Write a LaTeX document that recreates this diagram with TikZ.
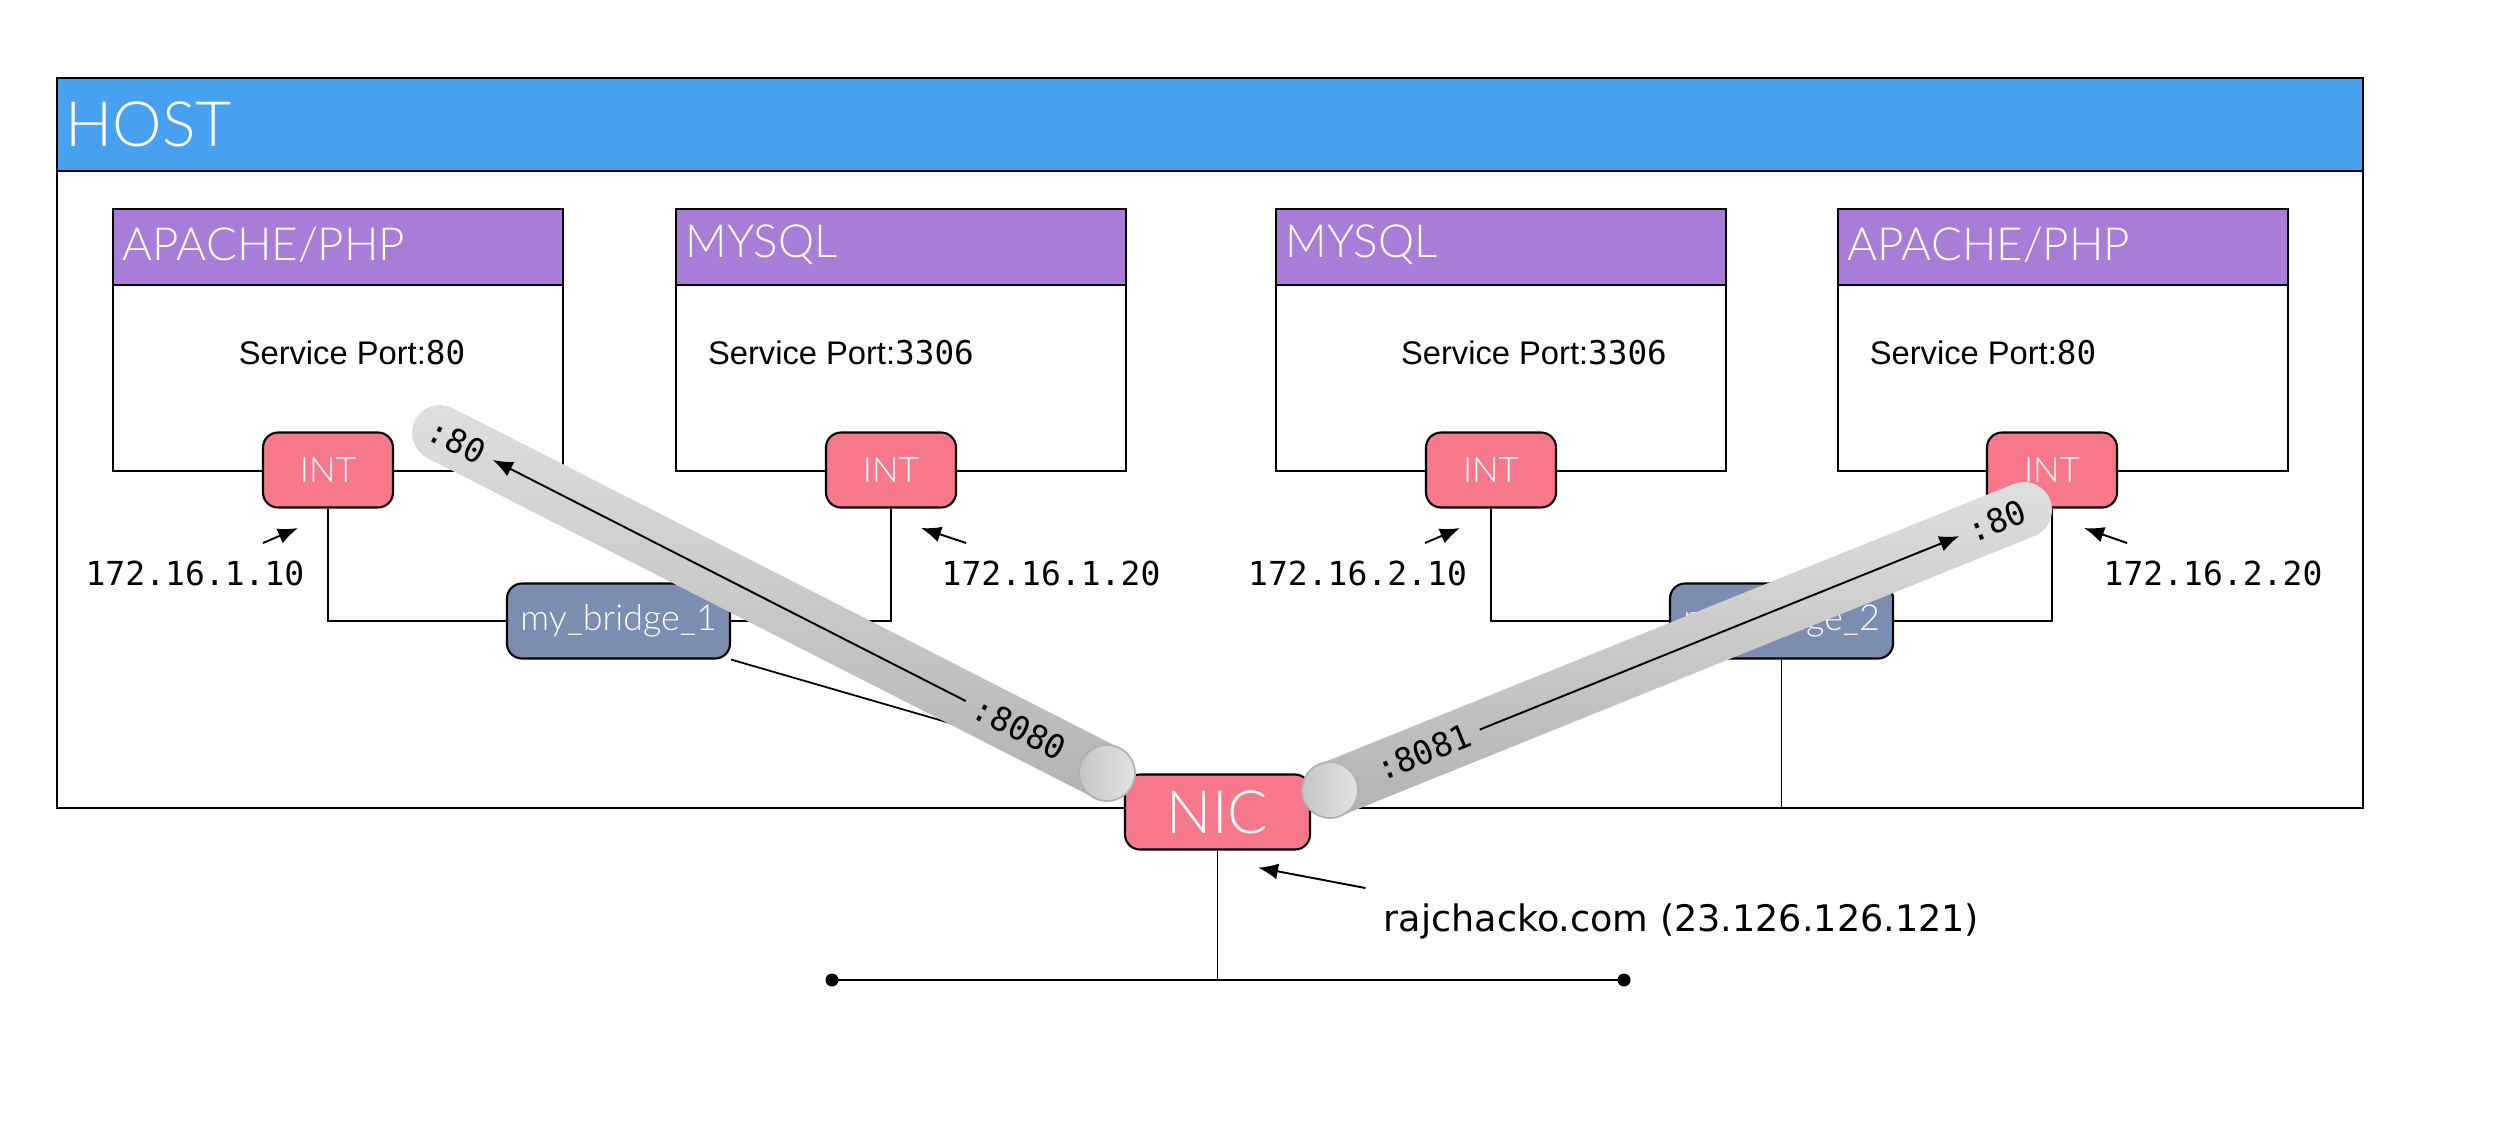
\documentclass[tikz,border=0pt]{standalone}
\usepackage{fontspec}
\setmainfont{Liberation Sans}
\setmonofont{DejaVu Sans Mono}
\newfontfamily\urlfont{DejaVu Sans}
\newfontfamily\thinfont{Lato Light}
\usetikzlibrary{arrows.meta,calc}

\definecolor{hostblue}{RGB}{71,161,240}
\definecolor{svcpurple}{RGB}{167,125,216}
\definecolor{intpink}{RGB}{246,120,138}
\definecolor{bridgeslate}{RGB}{124,141,178}

\tikzset{
  box/.style={draw, line width=0.6pt, fill=white, anchor=north west, inner sep=0pt},
  boxhead/.style={draw, line width=0.6pt, anchor=north west, inner sep=0pt},
  headtext/.style={text=white, anchor=west, inner sep=0pt},
  iface/.style={draw, line width=0.6pt, fill=intpink, rounded corners=0.15cm, text=white,
    minimum width=1.3cm, minimum height=0.75cm, font=\thinfont\fontsize{10}{11}\selectfont},
  bridge/.style={draw, line width=0.6pt, fill=bridgeslate, rounded corners=0.15cm, text=white,
    minimum width=2.23cm, minimum height=0.75cm, font=\thinfont\fontsize{10.2}{11}\selectfont},
  ip/.style={font=\ttfamily\fontsize{9.4}{11}\selectfont},
  port/.style={font=\ttfamily\fontsize{9.4}{11}\selectfont, inner sep=0.1cm},
  wire/.style={line width=0.5pt},
  ptr/.style={line width=0.55pt, -{Latex[length=2mm,width=1.6mm]}},
}

\begin{document}
\begin{tikzpicture}
  \useasboundingbox (0,0) rectangle (25.12,-11.31);
  % host
  \node[box, minimum width=23.06cm, minimum height=7.30cm] (host) at (0.56,-0.77) {};
  \node[boxhead, fill=hostblue, minimum width=23.06cm, minimum height=0.93cm] (hosthead) at (host.north west) {};
  \node[headtext, font=\thinfont\fontsize{17.8}{20}\selectfont] (hostname) at (0.65,-1.24) {HOST};

  % containers
  \foreach \i/\x/\name/\sx/\port in {1/1.12/{APACHE/PHP}/3.52/80, 2/6.75/MYSQL/8.41/3306,
      3/12.75/MYSQL/15.34/3306, 4/18.37/{APACHE/PHP}/19.83/80}{
    \node[box, minimum width=4.5cm, minimum height=2.62cm] (svc\i) at (\x,-2.08) {};
    \node[boxhead, fill=svcpurple, minimum width=4.5cm, minimum height=0.755cm] (svchead\i) at (svc\i.north west) {};
    \node[headtext, font=\thinfont\fontsize{13}{14}\selectfont] (svcname\i) at ($(svc\i.north west)+(0.1,-0.37)$) {\name};
    \node[font=\fontsize{9.3}{11}\selectfont] (svcport\i) at (\sx,-3.53) {Service Port:\texttt{\port}};
  }
  \foreach \i/\x in {1/3.28, 2/8.91, 3/14.91, 4/20.52}
    \node[iface] (int\i) at (\x,-4.70) {INT};

  \node[bridge] (br1) at (6.185,-6.21) {my\_bridge\_1};
  \node[bridge] (br2) at (17.815,-6.21) {my\_bridge\_2};
  \draw[wire] (int1) |- (br1);
  \draw[wire] (int2) |- (br1);
  \draw[wire] (int3) |- (br2);
  \draw[wire] (int4) |- (br2);

  \node[iface, minimum width=1.85cm, font=\thinfont\fontsize{17}{18}\selectfont] (nic) at (12.175,-8.12) {NIC};
  \draw[wire] (br1.south east) -- (nic.north west);
  \draw[wire] (br2) -- (br2 |- host.south);

  % uplink
  \coordinate (lanl) at (8.32,-9.80);
  \coordinate (lanr) at (16.24,-9.80);
  \draw[line width=0.8pt] (lanl) -- (lanr);
  \fill (lanl) circle (0.065) (lanr) circle (0.065);
  \draw[wire] (nic) -- (nic |- lanl);

  % addresses
  \node[ip] (ip1) at (1.95,-5.73) {172.16.1.10};
  \node[ip] (ip2) at (10.51,-5.73) {172.16.1.20};
  \node[ip] (ip3) at (13.575,-5.73) {172.16.2.10};
  \node[ip] (ip4) at (22.13,-5.73) {172.16.2.20};
  \draw[ptr] ([shift={(0.68,0.3)}]ip1.center) -- ++(0.35,0.15);
  \draw[ptr] ([shift={(-0.85,0.3)}]ip2.center) -- ++(-0.45,0.15);
  \draw[ptr] ([shift={(0.675,0.3)}]ip3.center) -- ++(0.35,0.15);
  \draw[ptr] ([shift={(-0.86,0.3)}]ip4.center) -- ++(-0.43,0.15);

  % port mappings
  \coordinate (t1lo) at (11.07,-7.73);
  \coordinate (t1hi) at (4.40,-4.33);
  \coordinate (t2lo) at (13.30,-7.90);
  \coordinate (t2hi) at (20.24,-5.10);
  \foreach \lo/\hi/\ang in {t1lo/t1hi/153, t2lo/t2hi/22}{
    \pgfmathsetmacro{\up}{\ang+90}
    \pgfmathsetmacro{\dn}{\ang-90}
    \shade[top color=gray!25, bottom color=gray!60]
      ($(\lo)+(\up:0.28)$) -- ($(\hi)+(\up:0.28)$)
      arc[start angle=\up, end angle=\dn, radius=0.28cm]
      -- ($(\lo)+(\dn:0.28)$) -- cycle;
    \shade[left color=gray!45, right color=gray!22, draw=gray!60, line width=0.5pt]
      (\lo) circle (0.28);
  }
  \node[port, rotate=-27] (p8080) at ($(t1lo)!0.131!(t1hi)$) {:8080};
  \node[port, rotate=-27] (p80a) at ($(t1lo)!0.975!(t1hi)$) {:80};
  \node[port, rotate=22] (p8081) at ($(t2lo)!0.135!(t2hi)$) {:8081};
  \node[port, rotate=22] (p80b) at ($(t2lo)!0.961!(t2hi)$) {:80};
  \draw[ptr] (p8080) -- (p80a);
  \draw[ptr] (p8081) -- (p80b);

  % public address
  \node[font=\urlfont\fontsize{10.4}{12}\selectfont] (url) at (16.815,-9.21) {rajchacko.com (23.126.126.121)};
  \draw[ptr] ([shift={(-3.16,0.33)}]url.center) -- ++(-1.075,0.204);
\end{tikzpicture}
\end{document}
